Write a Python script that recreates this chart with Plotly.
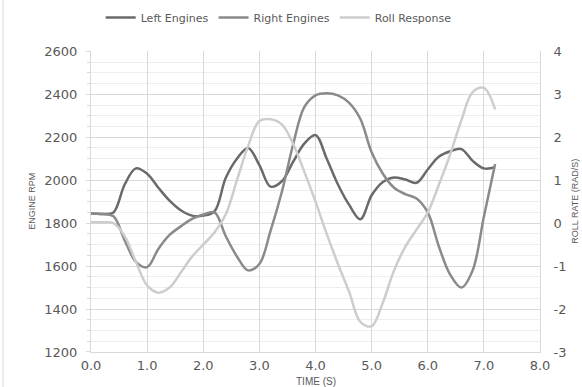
import plotly.graph_objects as go

# Time samples (s)
time_s = [0.0, 0.2, 0.4, 0.6, 0.8, 1.0, 1.2, 1.4, 1.6, 1.8, 2.0, 2.2, 2.4, 2.6, 2.8,
          3.0, 3.2, 3.4, 3.6, 3.8, 4.0, 4.2, 4.4, 4.6, 4.8, 5.0, 5.2, 5.4, 5.6, 5.8,
          6.0, 6.2, 6.4, 6.6, 6.8, 7.0, 7.2]

# Engine speeds (RPM)
left_rpm = [1845, 1843, 1850, 1980, 2055, 2030, 1965, 1905, 1860, 1835, 1835, 1855, 2010, 2100, 2150,
            2070, 1970, 1995, 2085, 2170, 2210, 2100, 1980, 1885, 1818, 1930, 1992, 2013, 2003, 1988,
            2050, 2110, 2135, 2145, 2090, 2055, 2060]
right_rpm = [1845, 1843, 1832, 1720, 1620, 1595, 1680, 1745, 1785, 1820, 1840, 1850, 1740, 1645, 1580,
             1610, 1765, 1945, 2165, 2340, 2395, 2405, 2395, 2360, 2285, 2130, 2030, 1965, 1935, 1915,
             1850, 1690, 1560, 1500, 1580, 1830, 2075]

# Roll rate (rad/s)
roll_rate = [0.02, 0.02, 0.0, -0.3, -0.9, -1.45, -1.62, -1.5, -1.15, -0.78, -0.5, -0.22, 0.2, 1.0, 1.8,
             2.38, 2.42, 2.3, 1.85, 1.2, 0.5, -0.25, -0.95, -1.6, -2.3, -2.4, -1.85, -1.1, -0.55, -0.15,
             0.25, 0.9, 1.6, 2.4, 3.05, 3.15, 2.65]

x_ticks = [0, 1, 2, 3, 4, 5, 6, 7, 8]
x_tick_text = ["0.0", "1.0", "2.0", "3.0", "4.0", "5.0", "6.0", "7.0", "8.0"]
roll_ticks = [-3, -2, -1, 0, 1, 2, 3, 4]
roll_tick_text = ["-3", "-2", "-1", "0", "1", "2", "3", "4"]

TEXT = "#595959"
GRID = "#d9d9d9"
FONT = "DejaVu Sans"

fig = go.Figure()
fig.add_trace(go.Scatter(x=time_s, y=left_rpm, name="Left Engines", mode="lines",
                         line=dict(color="#6a6a6a", width=2.5, shape="spline")))
fig.add_trace(go.Scatter(x=time_s, y=right_rpm, name="Right Engines", mode="lines",
                         line=dict(color="#8a8a8a", width=2.5, shape="spline")))
fig.add_trace(go.Scatter(x=time_s, y=roll_rate, name="Roll Response", mode="lines", yaxis="y2",
                         line=dict(color="#cdcdcd", width=2.5, shape="spline")))

fig.update_layout(
    width=582, height=387,
    margin=dict(l=91, r=42, t=43, b=35),
    paper_bgcolor="white", plot_bgcolor="white",
    font=dict(family=FONT, color=TEXT, size=13),
    showlegend=True,
    legend=dict(orientation="h", x=0.418, xanchor="center", y=0.955, yref="container",
                yanchor="middle", font=dict(size=11, color=TEXT), itemwidth=30,
                traceorder="normal"),
    xaxis=dict(range=[0, 8], tickvals=x_ticks, ticktext=x_tick_text, showgrid=True,
               gridcolor=GRID, gridwidth=1, zeroline=False, showline=True, linecolor=GRID,
               ticks="", ticklabelstandoff=1, tickfont=dict(size=13, color=TEXT)),
    yaxis=dict(range=[1200, 2600], dtick=200, showgrid=True, gridcolor=GRID, gridwidth=1,
               zeroline=False, showline=True, linecolor=GRID, ticks="outside", ticklen=4,
               tickcolor=GRID, ticklabelstandoff=6, tickfont=dict(size=13, color=TEXT),
               minor=dict(dtick=50, showgrid=True, gridcolor="#eeeeee", ticks="outside",
                          ticklen=3, tickcolor=GRID)),
    yaxis2=dict(range=[-3, 4], tickvals=roll_ticks, ticktext=roll_tick_text, overlaying="y",
                side="right", showgrid=False, zeroline=False, showline=True, linecolor=GRID,
                ticks="", ticklabelstandoff=10, tickfont=dict(size=13, color=TEXT)),
)

# Axis titles
fig.add_annotation(text="ENGINE RPM", xref="paper", yref="paper", x=0, y=0.5,
                   xanchor="center", yanchor="middle", xshift=-59, textangle=-90,
                   showarrow=False, font=dict(size=9, color=TEXT, family="Liberation Sans"))
fig.add_annotation(text="ROLL RATE (RAD/S)", xref="paper", yref="paper", x=1, y=0.5,
                   xanchor="center", yanchor="middle", xshift=35, textangle=-90,
                   showarrow=False, font=dict(size=9, color=TEXT, family="Liberation Sans"))
fig.add_annotation(text="TIME (S)", xref="paper", yref="paper", x=0.5, y=0,
                   xanchor="center", yanchor="middle", yshift=-29,
                   showarrow=False, font=dict(size=10, color=TEXT, family="Liberation Sans"))

# Chart-area frame edge
fig.add_shape(type="line", xref="paper", yref="paper", x0=-0.196, x1=-0.196, y0=-0.2, y1=1.2,
              line=dict(color=GRID, width=1))

fig.write_html("out.html")
